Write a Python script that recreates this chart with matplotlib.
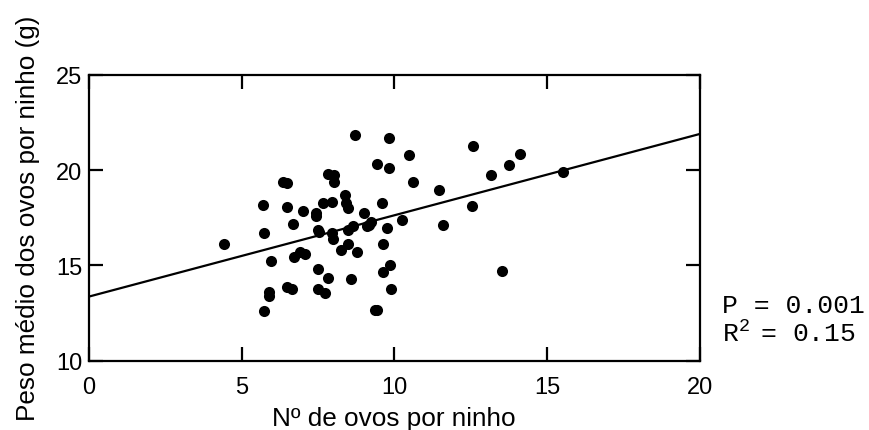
import numpy as np
import matplotlib
matplotlib.use("Agg")
from matplotlib import pyplot as plt

plt.rcParams['font.family'] = ['Liberation Sans', 'DejaVu Sans']
plt.rcParams['mathtext.fontset'] = 'custom'
plt.rcParams['mathtext.rm'] = 'Liberation Mono'
plt.rcParams['mathtext.it'] = 'Liberation Mono'

# numero de ovos por ninho / peso medio dos ovos (g)
ovos = [4.41, 5.70, 5.74, 5.72, 5.89, 5.89, 5.96, 6.36, 6.49, 6.49,
        6.49, 6.66, 6.68, 6.72, 7.01, 6.93, 7.07, 7.45, 7.45, 7.51,
        7.54, 7.50, 7.51, 7.67, 7.74, 7.84, 8.03, 8.03, 7.97, 7.96,
        8.00, 7.84, 8.24, 8.39, 8.42, 8.50, 8.50, 8.50, 8.66, 8.72,
        8.79, 8.59, 9.01, 9.12, 9.18, 9.25, 9.45, 9.36, 9.45, 9.61,
        9.64, 9.62, 9.75, 9.82, 9.84, 9.87, 9.88, 10.26, 10.47, 10.62,
        11.45, 11.59, 12.54, 12.57, 13.16, 13.53, 13.75, 14.13, 15.54]
peso = [16.12, 18.16, 16.68, 12.62, 13.62, 13.37, 15.24, 19.39, 19.30, 18.04,
        13.85, 13.76, 17.17, 15.42, 17.83, 15.68, 15.58, 17.74, 17.60, 16.87,
        16.73, 14.81, 13.76, 18.25, 13.53, 19.79, 19.74, 19.35, 18.30, 16.70,
        16.38, 14.34, 15.82, 18.69, 18.27, 17.99, 16.85, 16.12, 17.05, 21.84,
        15.72, 14.28, 17.74, 17.05, 17.12, 17.29, 20.30, 12.66, 12.66, 18.25,
        16.12, 14.63, 16.96, 21.66, 20.10, 15.02, 13.76, 17.38, 20.79, 19.35,
        18.95, 17.13, 18.13, 21.28, 19.74, 14.72, 20.26, 20.84, 19.88]

# reta de regressao
intercepto = 13.36
inclinacao = 0.4265

xticks = [0, 5, 10, 15, 20]
yticks = [10, 15, 20, 25]

fig = plt.figure(figsize=(8.69, 4.31), dpi=100)
ax = fig.add_axes([0.1022, 0.1608, 0.703, 0.6636])

ax.plot(ovos, peso, 'o', color='black', markersize=8, markeredgewidth=0)

xl = np.array([xticks[0], xticks[-1]])
ax.plot(xl, intercepto + inclinacao * xl, color='black', linewidth=1.6)

ax.set_xlim(xticks[0], xticks[-1])
ax.set_ylim(yticks[0], yticks[-1])
ax.set_xticks(xticks)
ax.set_yticks(yticks)

for s in ax.spines.values():
    s.set_linewidth(1.6)
ax.tick_params(direction='in', length=10, width=1.6, top=True, right=True,
               labelsize=17)
ax.tick_params(axis='x', pad=11)
ax.tick_params(axis='y', pad=4.5)

ax.set_xlabel("Nº de ovos por ninho", fontsize=18.8, labelpad=6)
ax.set_ylabel("Peso médio dos ovos por ninho (g)", fontsize=18.8, labelpad=12)

fig.text(722 / 869, 1 - 312.7 / 431, "P = 0.001", family='Liberation Mono',
         fontsize=19, va='baseline', ha='left')
fig.text(722 / 869, 1 - 341.7 / 431, r"R$^{\mathrm{2}}\!\!$ = 0.15",
         family='Liberation Mono', fontsize=19, va='baseline', ha='left')

plt.savefig("out.png", dpi=100)
